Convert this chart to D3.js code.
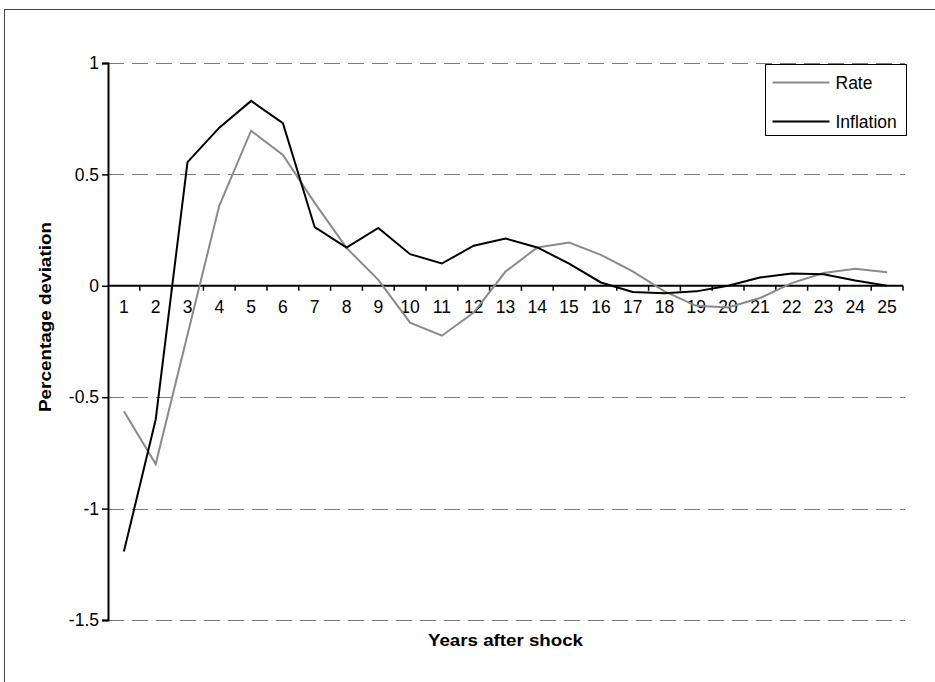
<!DOCTYPE html>
<html>
<head>
<meta charset="utf-8">
<script src="https://cdn.jsdelivr.net/npm/d3@7"></script>
<style>
  body { margin: 0; background: #fff; }
  svg { font-family: "Liberation Sans", Arial, sans-serif; }
</style>
</head>
<body>
<div id="chartDiv"></div>
<script>
// years after the shock
const years = d3.range(1, 26);

// values
const rateVals = [-0.563, -0.80, -0.22, 0.36, 0.696, 0.587, 0.372, 0.17, 0.027, -0.165,
	-0.224, -0.12, 0.064, 0.172, 0.194, 0.139, 0.065, -0.025, -0.09, -0.097,
	-0.055, 0.012, 0.057, 0.076, 0.061];
const inflationVals = [-1.193, -0.60, 0.555, 0.71, 0.83, 0.73, 0.263, 0.172, 0.26, 0.142,
	0.10, 0.18, 0.212, 0.172, 0.10, 0.015, -0.028, -0.033, -0.025, 0.0,
	0.037, 0.055, 0.052, 0.024, 0.0];

const yTicks = [1, 0.5, 0, -0.5, -1, -1.5];
const seriesNames = ['Rate', 'Inflation'];
const seriesColors = ['#8a8a8a', '#000000'];

const width = 935, height = 682;
const margin = { left: 108, right: 32, top: 63, bottom: 62 };
const labelSize = 17.5;

const svg = d3.select('#chartDiv').append('svg')
	.attr('width', width)
	.attr('height', height);

// outer frame (runs off right and bottom edges)
svg.append('rect')
	.attr('x', 4.5).attr('y', 9.5)
	.attr('width', width + 20).attr('height', height + 20)
	.attr('fill', 'none')
	.attr('stroke', '#444')
	.attr('stroke-width', 1);

const x = d3.scaleBand()
	.domain(years)
	.range([margin.left, width - margin.right]);

const y = d3.scaleLinear()
	.domain([-1.5, 1])
	.range([height - margin.bottom, margin.top]);

// dashed gridlines
svg.append('g')
	.selectAll('line')
	.data(yTicks.filter(d => d !== 0))
	.enter()
	.append('line')
	.attr('x1', margin.left)
	.attr('x2', width - margin.right + 2)
	.attr('y1', d => Math.round(y(d)) + 0.5)
	.attr('y2', d => Math.round(y(d)) + 0.5)
	.attr('stroke', '#7a7a7a')
	.attr('stroke-width', 1.2)
	.attr('stroke-dasharray', '16,8');

// y axis
const yAxis = svg.append('g')
	.attr('transform', `translate(${margin.left},0)`)
	.call(d3.axisLeft(y).tickValues(yTicks).tickSize(6).tickPadding(3).tickFormat(d => d.toString()));
yAxis.select('.domain').attr('stroke-width', 2);
yAxis.selectAll('.tick line').attr('stroke-width', 1.5);
yAxis.selectAll('text').attr('font-size', labelSize).attr('fill', '#000');

// x axis on the zero line, ticks between categories
const xAxisG = svg.append('g')
	.attr('transform', `translate(0,${y(0)})`);
xAxisG.append('line')
	.attr('x1', margin.left).attr('x2', width - margin.right)
	.attr('stroke', '#000').attr('stroke-width', 2);
xAxisG.selectAll('.xtick')
	.data(years)
	.enter()
	.append('line')
	.attr('class', 'xtick')
	.attr('x1', d => x(d) + x.bandwidth())
	.attr('x2', d => x(d) + x.bandwidth())
	.attr('y1', 0).attr('y2', 5)
	.attr('stroke', '#000').attr('stroke-width', 1.5);
xAxisG.selectAll('.xlab')
	.data(years)
	.enter()
	.append('text')
	.attr('class', 'xlab')
	.attr('x', d => x(d) + x.bandwidth() / 2)
	.attr('y', 27)
	.attr('text-anchor', 'middle')
	.attr('font-size', labelSize)
	.text(d => d);

// lines
const lineFn = d3.line()
	.x((d, i) => x(years[i]) + x.bandwidth() / 2)
	.y(d => y(d));

[rateVals, inflationVals].forEach((vals, i) => {
	svg.append('path')
		.datum(vals)
		.attr('d', lineFn)
		.attr('fill', 'none')
		.attr('stroke', seriesColors[i])
		.attr('stroke-width', 2)
		.attr('stroke-linejoin', 'miter');
});

// axis titles
svg.append('text')
	.attr('transform', 'translate(51,317) rotate(-90)')
	.attr('text-anchor', 'middle')
	.attr('font-size', 16)
	.attr('font-weight', 'bold')
	.attr('textLength', 190)
	.attr('lengthAdjust', 'spacingAndGlyphs')
	.text('Percentage deviation');

svg.append('text')
	.attr('x', (margin.left + width - margin.right) / 2)
	.attr('y', 646)
	.attr('text-anchor', 'middle')
	.attr('font-size', 16)
	.attr('font-weight', 'bold')
	.attr('textLength', 155)
	.attr('lengthAdjust', 'spacingAndGlyphs')
	.text('Years after shock');

// legend
const legend = svg.append('g').attr('transform', 'translate(765.5,64.5)');
legend.append('rect')
	.attr('width', 141).attr('height', 71)
	.attr('fill', '#fff').attr('stroke', '#000').attr('stroke-width', 1);
seriesNames.forEach((name, i) => {
	const ly = 18 + i * 39;
	legend.append('line')
		.attr('x1', 7).attr('x2', 64)
		.attr('y1', ly).attr('y2', ly)
		.attr('stroke', seriesColors[i]).attr('stroke-width', 2);
	legend.append('text')
		.attr('x', 70).attr('y', ly + 6)
		.attr('font-size', labelSize)
		.text(name);
});
</script>
</body>
</html>
